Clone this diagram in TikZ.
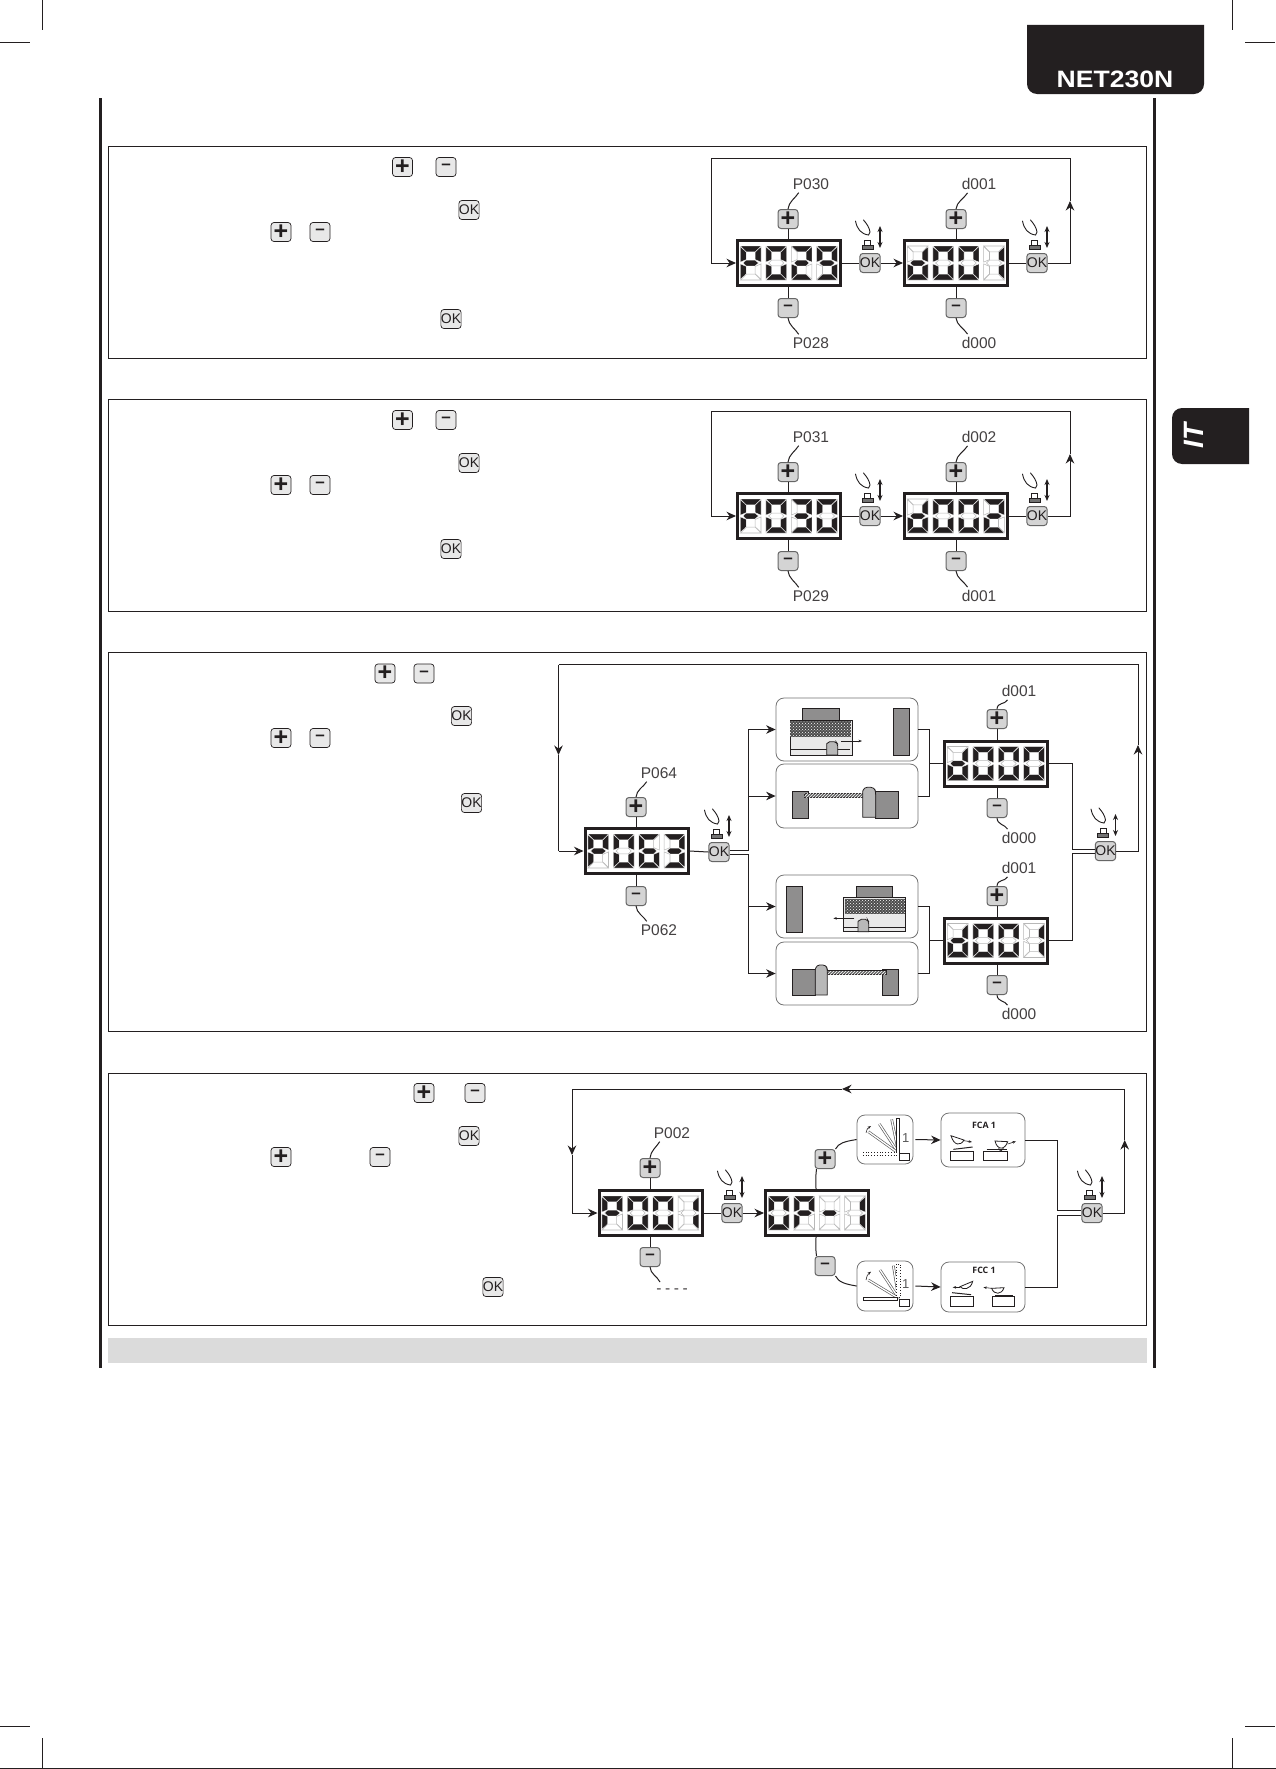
\documentclass[tikz,border=0pt]{standalone}
\usepackage{fontspec}
\setmainfont{Liberation Sans}
\newfontfamily\titlefont{Open Sans}
\usetikzlibrary{arrows.meta,patterns,calc}
\definecolor{ink}{HTML}{231F20}
\definecolor{btnfill}{HTML}{D4D4D4}
\definecolor{txtbtn}{HTML}{E8E8E8}
\definecolor{wallg}{HTML}{8F8E8E}
\definecolor{postg}{HTML}{B8B8B8}
\definecolor{lightp}{HTML}{E9E9E9}
\tikzset{
  conn/.style={draw=ink,line width=1pt},
  arr/.style={conn,-{Stealth[length=9.5pt,width=8.5pt]}},
  twoarr/.style={conn,line width=1.2pt,{Stealth[length=6pt,width=5pt]}-{Stealth[length=6pt,width=5pt]}},
  tinyarr/.style={draw=ink,line width=.6pt,-{Stealth[length=3.5pt,width=2.6pt]}},
  thin1/.style={draw=ink,line width=.8pt},
  panelbox/.style={draw=ink,line width=1pt},
  lcdbox/.style={draw=ink,line width=3pt,fill=white,minimum width=103pt,minimum height=45pt,inner sep=0pt},
  seg0/.style={draw=black!28,line width=.55pt,fill=white},
  seg1/.style={draw=white,line width=.3pt,fill=ink},
  btn/.style={draw=black!60,line width=1pt,rounded corners=3pt,fill=btnfill,minimum width=20pt,minimum height=19pt,inner sep=0pt,text=ink},
  tbtn/.style={btn,draw=ink,line width=.7pt,fill=txtbtn},
  plusf/.style={font=\bfseries\fontsize{25}{25}\selectfont},
  minusf/.style={font=\bfseries\fontsize{17}{17}\selectfont},
  okf/.style={font=\fontsize{14}{14}\selectfont},
  lbl/.style={inner sep=0pt,font=\fontsize{15.5}{16}\selectfont,text=ink!85},
  rbox/.style={draw=black!55,line width=.8pt,fill=white,rounded corners=8pt,inner sep=0pt},
  wall/.style={fill=wallg,draw=ink,line width=.4pt},
  zoomunits/.style={x=.33333pt,y=-.33333pt}
}
\newcommand\segdraw[7]{%
  \draw[seg#1] (-10.3,-17)--(10.3,-17)--(4.5,-11.2)--(-4.5,-11.2)--cycle;
  \draw[seg#2] (10.3,-16.4)--(10.3,-.9)--(4.5,-3.4)--(4.5,-10.9)--cycle;
  \draw[seg#3] (10.3,16.4)--(10.3,.9)--(4.5,3.4)--(4.5,10.9)--cycle;
  \draw[seg#4] (-10.3,17)--(10.3,17)--(4.5,11.2)--(-4.5,11.2)--cycle;
  \draw[seg#5] (-10.3,16.4)--(-10.3,.9)--(-4.5,3.4)--(-4.5,10.9)--cycle;
  \draw[seg#6] (-10.3,-16.4)--(-10.3,-.9)--(-4.5,-3.4)--(-4.5,-10.9)--cycle;
  \draw[seg#7] (-4.5,-2.9)--(4.5,-2.9)--(7.6,0)--(4.5,2.9)--(-4.5,2.9)--(-7.6,0)--cycle;
}
\expandafter\def\csname lcdg0\endcsname{\segdraw1111110}
\expandafter\def\csname lcdg1\endcsname{\segdraw0110000}
\expandafter\def\csname lcdg2\endcsname{\segdraw1101101}
\expandafter\def\csname lcdg3\endcsname{\segdraw1111001}
\expandafter\def\csname lcdg6\endcsname{\segdraw1011111}
\expandafter\def\csname lcdg9\endcsname{\segdraw1111011}
\expandafter\def\csname lcdgP\endcsname{\segdraw1100111}
\expandafter\def\csname lcdgd\endcsname{\segdraw0111101}
\expandafter\def\csname lcdgm\endcsname{\segdraw0000001}
\newcommand\LCD[7]{%
  \node[lcdbox] (#1) at (#2,#3) {};
  \begin{scope}[shift={(#2,#3)}]
    \begin{scope}[shift={(-38.3,0)}]\csname lcdg#4\endcsname\end{scope}
    \begin{scope}[shift={(-12.8,0)}]\csname lcdg#5\endcsname\end{scope}
    \begin{scope}[shift={(12.6,0)}]\csname lcdg#6\endcsname\end{scope}
    \begin{scope}[shift={(38,0)}]\csname lcdg#7\endcsname\end{scope}
  \end{scope}}
\newcommand\OKbtn[3]{\node[btn,okf] (#1) at (#2,#3) {OK};
  \begin{scope}[shift={(#2,#3)}]
    \draw[draw=ink,line width=.9pt,line cap=round] (-14.5,-42) .. controls (-13,-34) and (-9,-29) .. (-1.5,-28);
    \draw[draw=ink,line width=.9pt,line cap=round] (-6.5,-43) .. controls (-3,-39) and (-.5,-35) .. (0,-31) -- (-1.5,-28);
    \draw[thin1,fill=white] (-5.5,-22.5) rectangle (.5,-18);
    \draw[thin1,fill=black!55] (-8,-18) rectangle (3,-14);
    \draw[twoarr] (10,-37) -- (10,-15);
  \end{scope}}
\newcommand\TPlus[3]{\node[tbtn,plusf] (#1) at (#2,#3) {+};}
\newcommand\TMinus[3]{\node[tbtn,minusf] (#1) at (#2,#3) {–};}
\newcommand\TOK[3]{\node[tbtn,okf] (#1) at (#2,#3) {OK};}
\newcommand\BPlus[3]{\node[btn,plusf] (#1) at (#2,#3) {+};}
\newcommand\BMinus[3]{\node[btn,minusf] (#1) at (#2,#3) {–};}
\newcommand\upleader[2]{\draw[conn] (#1.north) .. controls +(.5,-7) and +(-3,5) .. ([shift={(6,3)}]#2.south west);}
\newcommand\dnleader[2]{\draw[conn] (#1.south) .. controls +(.5,7) and +(-3,-5) .. ([shift={(6,-3)}]#2.north west);}
\newcommand\stubup[2]{\draw[conn] (#1.south) -- (#1.south |- #2.north);}
\newcommand\stubdn[2]{\draw[conn] (#1.north) -- (#1.north |- #2.south);}
\newcommand\toppanel[8]{%
  \begin{scope}[shift={(0,#2)}]
    \node[lbl] (#1la) at (811,184) {#5};
    \node[lbl] (#1lb) at (811,343) {#6};
    \node[lbl] (#1lc) at (979,184) {#7};
    \node[lbl] (#1ld) at (979,343) {#8};
    \LCD{#1da}{789}{263}#3
    \LCD{#1db}{956}{263}#4
    \BPlus{#1pa}{788}{219}
    \BMinus{#1ma}{788}{308}
    \BPlus{#1pb}{956}{219}
    \BMinus{#1mb}{956}{308}
    \OKbtn{#1oka}{870}{263}
    \OKbtn{#1okb}{1037}{263}
    \upleader{#1pa}{#1la}\dnleader{#1ma}{#1lb}
    \upleader{#1pb}{#1lc}\dnleader{#1mb}{#1ld}
    \stubup{#1pa}{#1da}\stubdn{#1ma}{#1da}
    \stubup{#1pb}{#1db}\stubdn{#1mb}{#1db}
    \draw[conn] (#1da.east) -- (#1oka.west);
    \draw[arr] (#1oka.east) -- (#1db.west);
    \draw[conn] (#1db.east) -- (#1okb.west);
    \coordinate (#1rb) at (1070,263);
    \coordinate (#1ru) at (1070,201);
    \coordinate (#1rt) at (1070,158);
    \coordinate (#1lt) at (711,158);
    \coordinate (#1lb2) at (711,263);
    \draw[arr] (#1okb.east) -- (#1rb) -- (#1ru);
    \draw[conn] (#1ru) -- (#1rt) -- (#1lt) -- (#1lb2);
    \draw[arr] (#1lb2) -- (#1da.west);
  \end{scope}}
\begin{document}
\begin{tikzpicture}[x=1pt,y=-1pt]
\useasboundingbox (0,0) rectangle (1276,1769);
\fill[white] (0,0) rectangle (1276,1769);
% crop marks
\draw[conn] (42,0) -- (42,30);
\draw[conn] (0,42.5) -- (30,42.5);
\draw[conn] (1232,0) -- (1232,30);
\draw[conn] (1245,42.5) -- (1275,42.5);
\draw[conn] (0,1726) -- (30,1726);
\draw[conn] (42,1738) -- (42,1768);
\draw[conn] (1245,1726) -- (1275,1726);
\draw[conn] (1232,1738) -- (1232,1768);
\draw[conn] (0,1768.3) -- (1276,1768.3);
% header tab
\fill[ink] (1027,25) [rounded corners=10pt] -- (1027,94) -- (1204,94) [sharp corners] -- (1204,25) -- cycle;
\node[xscale=1.12,text=white,inner sep=0pt,font=\bfseries\fontsize{23.7}{24}\selectfont] (hdr) at (1115,79) {NET230N};
% language tab
\fill[ink] (1249,408) [rounded corners=10pt] -- (1172,408) -- (1172,464) [sharp corners] -- (1249,464) -- cycle;
\node[rotate=90,text=white,inner sep=0pt,font=\bfseries\itshape\fontsize{28}{28}\selectfont] (lang) at (1194,436) {IT};
% rules
\draw[draw=ink,line width=3pt] (100.5,98) -- (100.5,1368);
\draw[draw=ink,line width=3pt] (1154,98) -- (1154,1368);
% panels
\draw[panelbox] (108.5,146.5) rectangle (1146.5,358.5);
\draw[panelbox] (108.5,399.5) rectangle (1146.5,611.5);
\draw[panelbox] (108.5,652) rectangle (1146.5,1031);
\draw[panelbox] (108.5,1073) rectangle (1146.5,1325);
\fill[black!14] (108,1338) rectangle (1147,1363);
% inline buttons
\TPlus{ta1}{402.5}{167}\TMinus{ta2}{446}{167}\TOK{ta3}{469}{210}\TPlus{ta4}{281}{232}\TMinus{ta5}{320}{232}\TOK{ta6}{451}{319}
\TPlus{tb1}{402.5}{420}\TMinus{tb2}{446}{420}\TOK{tb3}{469}{463}\TPlus{tb4}{281}{485}\TMinus{tb5}{320}{485}\TOK{tb6}{451}{549}
\TPlus{tc1}{385}{673.5}\TMinus{tc2}{424}{673.5}\TOK{tc3}{461.5}{716}\TPlus{tc4}{281}{738}\TMinus{tc5}{320}{738}\TOK{tc6}{471.5}{803}
\TPlus{td1}{424}{1093}\TMinus{td2}{475}{1093}\TOK{td3}{469}{1136}\TPlus{td4}{281}{1157}\TMinus{td5}{380}{1157}\TOK{td6}{493}{1287}
% panels 1, 2
\toppanel{a}{0}{{P}{0}{2}{9}}{{d}{0}{0}{1}}{P030}{P028}{d001}{d000}
\toppanel{b}{253}{{P}{0}{3}{0}}{{d}{0}{0}{2}}{P031}{P029}{d002}{d001}
% ---------- panel 3
\node[lbl] (cla) at (659,773) {P064};
\node[lbl] (clb) at (659,930) {P062};
\LCD{cd}{636.5}{851}{P}{0}{6}{3}
\BPlus{cp}{636}{807}\BMinus{cm}{636}{896}
\upleader{cp}{cla}\dnleader{cm}{clb}\stubup{cp}{cd}\stubdn{cm}{cd}
\OKbtn{cok}{719}{852}
\draw[conn] (cd.east) -- (cok.west);
\node[rbox,minimum width=142pt,minimum height=63pt] (cb1) at (847,729.5) {};
\node[rbox,minimum width=142pt,minimum height=64pt] (cb2) at (847,796) {};
\node[rbox,minimum width=142pt,minimum height=63pt] (cb3) at (847,906.5) {};
\node[rbox,minimum width=142pt,minimum height=63pt] (cb4) at (847,973.5) {};
\coordinate (cs1) at (748,729.5);\coordinate (cs2) at (748,796);
\coordinate (cs3) at (748,906.5);\coordinate (cs4) at (748,973.5);
\draw[conn] ([yshift=2pt]cok.east) -| (cs1);
\draw[conn] ([yshift=-2pt]cok.east) -| (cs4);
\draw[arr] (cs1) -- (cb1.west);\draw[arr] (cs2) -- (cb2.west);
\draw[arr] (cs3) -- (cb3.west);\draw[arr] (cs4) -- (cb4.west);
% displays right
\node[lbl] (clc) at (1019,691) {d001};
\node[lbl] (cld) at (1019,838) {d000};
\node[lbl] (cle) at (1019,868) {d001};
\node[lbl] (clf) at (1019,1014) {d000};
\LCD{ce}{996}{763.5}{d}{0}{0}{0}
\LCD{cf}{996}{940.5}{d}{0}{0}{1}
\BPlus{cp2}{997}{719}\BMinus{cm2}{997}{808}
\BPlus{cp3}{997}{896}\BMinus{cm3}{997}{985}
\upleader{cp2}{clc}\dnleader{cm2}{cld}\upleader{cp3}{cle}\dnleader{cm3}{clf}
\stubup{cp2}{ce}\stubdn{cm2}{ce}\stubup{cp3}{cf}\stubdn{cm3}{cf}
\coordinate (cj1) at (929,763.5);\coordinate (cj2) at (929,940.5);
\draw[conn] (cb1.east) -| (cj1);\draw[conn] (cb2.east) -| (cj1);\draw[conn] (cj1) -- (ce.west);
\draw[conn] (cb3.east) -| (cj2);\draw[conn] (cb4.east) -| (cj2);\draw[conn] (cj2) -- (cf.west);
\OKbtn{cok2}{1105.5}{851}
\coordinate (cv) at (1072,849);
\draw[conn] (ce.east) -| (cv) -- ([yshift=2pt]cok2.west);
\coordinate (cv2) at (1072,853);
\draw[conn] (cf.east) -| (cv2) -- ([yshift=-2pt]cok2.west);
\coordinate (crb) at (1138,851);\coordinate (cru) at (1138,745);\coordinate (crt) at (1138,664.5);
\coordinate (clt) at (558.5,664.5);\coordinate (clm) at (558.5,755);\coordinate (clb2) at (558.5,851);
\draw[arr] (cok2.east) -- (crb) -- (cru);
\draw[conn] (cru) -- (crt) -- (clt);
\draw[arr] (clt) -- (clm);
\draw[conn] (clm) -- (clb2);
\draw[arr] (clb2) -- (cd.west);
% box pictures
\begin{scope}[shift={(740,680)},zoomunits]
  % box 1
  \fill[wall] (188,85) rectangle (298,122);
  \draw[thin1,fill=lightp] (150,122) rectangle (337,225);
  \fill[black!70] (150,122) rectangle (333,170);
  \fill[pattern=crosshatch dots,pattern color=white] (150,124) rectangle (333,170);
  \draw[thin1] (150,208) -- (330,208);
  \draw[thin1,fill=postg] (260,225) -- (260,192) [rounded corners=2pt] -- (263,185) -- (288,185) -- (293,192) [sharp corners] -- (293,225) -- cycle;
  \draw[tinyarr] (303,183) -- (366,183);
  \fill[wall] (460,85) rectangle (507,227);
  % box 2
  \fill[wall] (156,334) rectangle (206,415);
  \fill[wall] (407,334) rectangle (475,415);
  \draw[thin1,fill=black!60] (193,340) rectangle (372,352);
  \fill[pattern=north east lines,pattern color=white] (193,341) rectangle (372,351);
  \draw[thin1,fill=postg] (368,412) -- (368,335) [rounded corners=3pt] -- (372,322) -- (402,322) -- (407,335) [sharp corners] -- (407,412) -- cycle;
  % box 3
  \fill[wall] (138,619) rectangle (188,757);
  \fill[wall] (349,619) rectangle (456,652);
  \draw[thin1,fill=lightp] (310,652) rectangle (495,755);
  \fill[black!70] (316,658) rectangle (495,703);
  \fill[pattern=crosshatch dots,pattern color=white] (316,658) rectangle (495,703);
  \draw[thin1] (310,742) -- (495,742);
  \draw[thin1,fill=postg] (354,755) -- (354,725) [rounded corners=2pt] -- (358,718) -- (382,718) -- (386,725) [sharp corners] -- (386,755) -- cycle;
  \draw[tinyarr] (343,715) -- (280,715);
  % box 4
  \fill[wall] (156,867) rectangle (226,947);
  \fill[wall] (427,867) rectangle (475,947);
  \draw[thin1,fill=black!60] (262,872) rectangle (438,883);
  \fill[pattern=north east lines,pattern color=white] (262,873) rectangle (438,882);
  \draw[thin1,fill=postg] (226,945) -- (226,868) [rounded corners=3pt] -- (230,855) -- (258,855) -- (262,868) [sharp corners] -- (262,945) -- cycle;
\end{scope}
% ---------- panel 4
\node[lbl] (dla) at (672,1133) {P002};
\node[lbl] (dlb) at (672,1291) {-\kern3.6pt-\kern3.6pt-\kern3.6pt-};
\LCD{dd}{650.5}{1213}{P}{0}{0}{1}
\LCD{de}{817}{1213}{0}{P}{m}{1}
\BPlus{dp}{650}{1168}\BMinus{dm}{650}{1257}
\upleader{dp}{dla}\stubup{dp}{dd}\stubdn{dm}{dd}
\coordinate (dmq) at (660,1282);
\draw[conn] (dm.south) .. controls +(.5,7) and +(-3,-6) .. (dmq);
\OKbtn{dok}{732}{1213}
\draw[conn] (dd.east) -- (dok.west);
\draw[arr] (dok.east) -- (de.west);
\node[btn,plusf] (dp2) at (825,1159) {+};
\node[btn,minusf] (dm2) at (825,1266) {–};
\node[rbox,minimum width=56pt,minimum height=49pt] (df1) at (885,1139.5) {};
\node[rbox,minimum width=56pt,minimum height=50pt] (df2) at (885,1286) {};
\node[rbox,minimum width=84pt,minimum height=54pt] (dc1) at (983,1140) {};
\node[rbox,minimum width=84pt,minimum height=50pt] (dc2) at (983,1287) {};
\draw[conn] (dp2.north east) .. controls +(3,-6) and +(-12,2) .. (df1.west);
\draw[conn] (dm2.south east) .. controls +(3,6) and +(-12,-2) .. (df2.west);
\draw[conn] (dp2.south west) ++(2,0) .. controls +(-1,6) and +(0,-6) .. (816,1189);
\draw[conn] (dm2.north west) ++(2,0) .. controls +(-1,-6) and +(0,6) .. (816,1237);
\draw[arr] ([xshift=2pt]df1.east) -- (dc1.west);
\draw[arr] ([xshift=2pt]df2.east) -- (dc2.west);
\OKbtn{dok2}{1092}{1213}
\coordinate (dv1) at (1057,1210.7);\coordinate (dv2) at (1057,1215.7);
\draw[conn] (dc1.east) -| (dv1) -- ([yshift=2.3pt]dok2.west);
\draw[conn] (dc2.east) -| (dv2) -- ([yshift=-2.7pt]dok2.west);
\coordinate (drb) at (1124.7,1213);\coordinate (dru) at (1124.7,1140);\coordinate (drt) at (1124.7,1089);
\coordinate (dtm) at (842,1089);\coordinate (dlt) at (572,1089);\coordinate (dlm) at (572,1155);\coordinate (dlb2) at (572,1213);
\draw[arr] (dok2.east) -- (drb) -- (dru);
\draw[arr] (dru) -- (drt) -- (dtm);
\draw[arr] (dtm) -- (dlt) -- (dlm);
\draw[conn] (dlm) -- (dlb2);
\draw[arr] (dlb2) -- (dd.west);
% icons in panel 4
\begin{scope}[shift={(840,1090)},zoomunits]
  \foreach \ex/\ey in {155/88,118/102,85/125}{
    \draw[draw=black!65,line width=2.6pt] (176,190) -- (\ex,\ey);
    \draw[draw=white,line width=1.3pt] (176,190) -- (\ex,\ey);}
  \draw[thin1,fill=white] (170,85) rectangle (178,187);
  \draw[draw=ink,line width=.8pt,dotted,fill=white] (70,187) rectangle (178,197);
  \draw[thin1,fill=white] (178,190) rectangle (208,212);
  \draw[tinyarr] (78,128) .. controls (78,120) and (84,114) .. (93,108);
  \node[inner sep=0pt,text=black!65,font=\fontsize{13}{13}\selectfont] (one1) at (197,143) {1};
  \foreach \ex/\ey in {160/527,120/540,85/570}{
    \draw[draw=black!65,line width=2.6pt] (176,625) -- (\ex,\ey);
    \draw[draw=white,line width=1.3pt] (176,625) -- (\ex,\ey);}
  \draw[draw=ink,line width=.8pt,dotted,fill=white] (168,522) rectangle (182,622);
  \draw[thin1,fill=white] (70,622) rectangle (172,632);
  \draw[thin1,fill=white] (178,628) rectangle (208,650);
  \draw[tinyarr] (78,570) .. controls (78,560) and (84,552) .. (93,545);
  \node[inner sep=0pt,text=black!65,font=\fontsize{13}{13}\selectfont] (one2) at (197,582) {1};
  \node[inner sep=0pt,text=ink,font=\titlefont\bfseries\fontsize{8.8}{9}\selectfont] (fca) at (432,105) {FCA 1};
  \draw[thin1,fill=white] (331,183) rectangle (401,212);
  \draw[thin1,fill=white] (431,183) rectangle (501,212);
  \draw[draw=ink,line width=1pt] (340,178) -- (398,171);
  \draw[draw=ink,line width=1pt] (440,177) -- (500,177);
  \draw[thin1,fill=white] (333,137) .. controls (342,168) and (362,168) .. (372,150) -- cycle;
  \draw[tinyarr] (372,152) -- (396,156);
  \draw[thin1,fill=white] (465,153) .. controls (472,182) and (495,180) .. (503,155) -- cycle;
  \draw[thin1] (476,175) -- (482,184) -- (490,175);
  \draw[tinyarr] (503,162) -- (528,154);
  \node[inner sep=0pt,text=ink,font=\titlefont\bfseries\fontsize{8.8}{9}\selectfont] (fcc) at (432,542) {FCC 1};
  \draw[thin1,fill=white] (331,619) rectangle (401,650);
  \draw[thin1,fill=white] (457,619) rectangle (523,650);
  \draw[draw=ink,line width=1pt] (336,608) -- (393,614);
  \draw[draw=ink,line width=1pt] (465,617) -- (520,617);
  \draw[thin1,fill=white] (360,590) .. controls (368,600) and (392,600) .. (398,574) -- cycle;
  \draw[tinyarr] (360,592) -- (338,592);
  \draw[thin1,fill=white] (455,595) .. controls (462,615) and (485,615) .. (492,593) -- cycle;
  \draw[tinyarr] (455,595) -- (430,592);
\end{scope}
\end{tikzpicture}
\end{document}
